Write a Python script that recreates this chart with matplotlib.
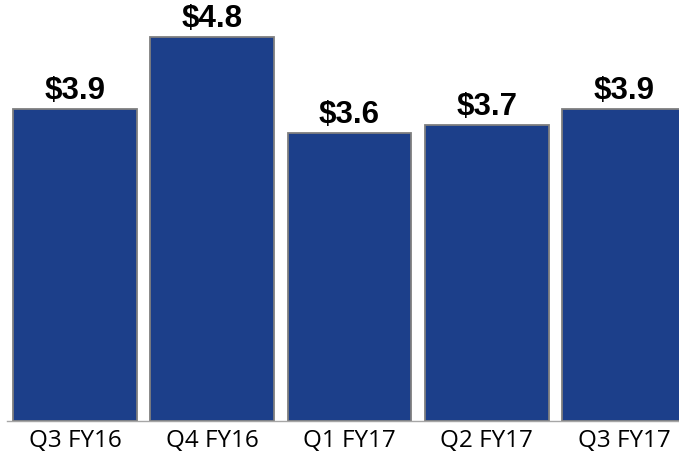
import numpy as np
import matplotlib.pyplot as plt

quarters = ["Q3 FY16", "Q4 FY16", "Q1 FY17", "Q2 FY17", "Q3 FY17"]
values = [3.9, 4.8, 3.6, 3.7, 3.9]
labels = ["$3.9", "$4.8", "$3.6", "$3.7", "$3.9"]

fig = plt.figure(figsize=(6.79, 4.57), dpi=100)
ax = fig.add_axes([7 / 679, 1 - 421 / 457, 1 - 7 / 679, 421 / 457])

x = np.arange(len(quarters))
bars = ax.bar(x, values, width=0.9, color="#1c3f8a", edgecolor="#7f7f7f", linewidth=1.3)

for b, lab in zip(bars, labels):
    ax.annotate(lab, (b.get_x() + b.get_width() / 2, b.get_height()),
                xytext=(0, 2.5), textcoords="offset points", ha="center", va="bottom",
                fontsize=22.5, fontweight="bold", family="Liberation Sans", color="black")

ax.set_xlim(-0.4954, 4.4007)
ax.set_ylim(0, 5.2625)
ax.set_xticks(x)
ax.set_xticklabels(quarters, family="Open Sans", fontsize=17.5)
ax.tick_params(axis="x", length=0, pad=6)
ax.set_yticks([])
for s in ["top", "right", "left"]:
    ax.spines[s].set_visible(False)
ax.spines["bottom"].set_color("#a6a6a6")
ax.spines["bottom"].set_linewidth(1)

fig.savefig("out.png", dpi=100)
